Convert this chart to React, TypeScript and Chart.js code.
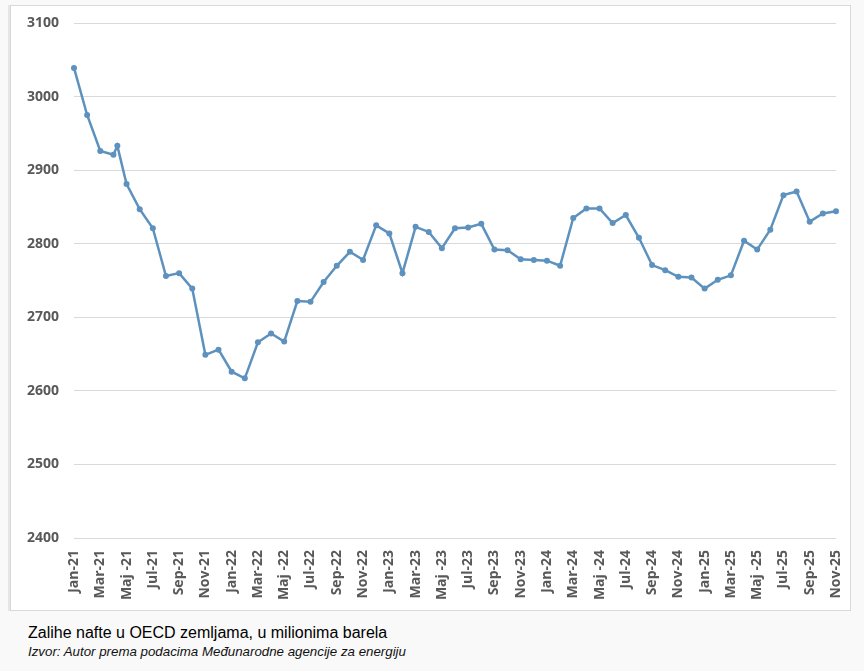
import React, { useEffect, useRef } from "react";
import { Chart, registerables } from "chart.js";

Chart.register(...registerables);

// Monthly tick labels (Jan-21 .. Nov-25)
const monthLabels = [
  "Jan-21", "Feb-21", "Mar-21", "Apr-21", "Maj -21", "Jun-21", "Jul-21", "Avg-21", "Sep-21", "Okt-21", "Nov-21", "Dec-21",
  "Jan-22", "Feb-22", "Mar-22", "Apr-22", "Maj -22", "Jun-22", "Jul-22", "Avg-22", "Sep-22", "Okt-22", "Nov-22", "Dec-22",
  "Jan-23", "Feb-23", "Mar-23", "Apr-23", "Maj -23", "Jun-23", "Jul-23", "Avg-23", "Sep-23", "Okt-23", "Nov-23", "Dec-23",
  "Jan-24", "Feb-24", "Mar-24", "Apr-24", "Maj -24", "Jun-24", "Jul-24", "Avg-24", "Sep-24", "Okt-24", "Nov-24", "Dec-24",
  "Jan-25", "Feb-25", "Mar-25", "Apr-25", "Maj -25", "Jun-25", "Jul-25", "Avg-25", "Sep-25", "Okt-25", "Nov-25",
];

// Position of each observation on the month axis (one extra reading after Apr-21)
const monthIndex = [
  0, 1, 2, 3, 3.3, 4, 5, 6, 7, 8, 9, 10, 11, 12, 13, 14, 15, 16, 17, 18, 19, 20,
  21, 22, 23, 24, 25, 26, 27, 28, 29, 30, 31, 32, 33, 34, 35, 36, 37, 38, 39, 40,
  41, 42, 43, 44, 45, 46, 47, 48, 49, 50, 51, 52, 53, 54, 55, 56, 57, 58,
];

// OECD oil stocks, million barrels
const stockValues = [
  3039, 2975, 2926, 2921, 2933, 2881, 2847, 2821, 2756, 2760, 2739, 2649, 2656, 2626, 2617, 2666, 2678, 2667,
  2722, 2721, 2748, 2770, 2789, 2778, 2825, 2814, 2760, 2823, 2816, 2794, 2821, 2822, 2827, 2792, 2791, 2779,
  2778, 2777, 2770, 2835, 2848, 2848, 2828, 2839, 2808, 2771, 2764, 2755, 2754, 2739, 2751, 2757, 2804, 2792,
  2819, 2866, 2871, 2830, 2841, 2844,
];

const yMin = 2400;
const yMax = 3100;
const yStep = 100;

const captionTitle = "Zalihe nafte u OECD zemljama, u milionima barela";
const captionSource = "Izvor: Autor prema podacima Međunarodne agencije za energiju";

export default function App() {
  const canvasRef = useRef<HTMLCanvasElement | null>(null);

  useEffect(() => {
    if (!canvasRef.current) return;
    const points = stockValues.map((v, i) => ({ x: monthIndex[i], y: v }));
    const chart = new Chart(canvasRef.current, {
      type: "line",
      data: {
        datasets: [
          {
            data: points,
            borderColor: "#5d91be",
            backgroundColor: "#5d91be",
            borderWidth: 2.5,
            pointRadius: 3,
            pointBorderWidth: 0,
            pointBackgroundColor: "#5d91be",
            tension: 0,
            clip: false,
          },
        ],
      },
      options: {
        responsive: false,
        maintainAspectRatio: false,
        animation: false,
        layout: { padding: { top: 17, right: 14, left: 0, bottom: 0 } },
        plugins: {
          legend: { display: false },
          tooltip: { enabled: false },
        },
        scales: {
          x: {
            type: "linear",
            min: 0,
            max: monthLabels.length - 1,
            afterFit: (scale: any) => {
              scale.height = 72;
              scale.paddingLeft = 0;
              scale.paddingRight = 0;
            },
            grid: { display: false, drawTicks: false },
            border: { display: false },
            ticks: {
              stepSize: 2,
              autoSkip: false,
              maxRotation: 90,
              minRotation: 90,
              padding: 12,
              color: "#595959",
              font: { family: "'Open Sans', sans-serif", size: 14, weight: "bold" },
              callback: (v: any) => monthLabels[Number(v)] ?? "",
            },
          },
          y: {
            min: yMin,
            max: yMax,
            afterFit: (scale: any) => {
              scale.width = 63;
              scale.paddingTop = 0;
              scale.paddingBottom = 0;
            },
            grid: { color: "#d9d9d9", lineWidth: 1, drawTicks: false },
            border: { display: false },
            ticks: {
              stepSize: yStep,
              padding: 15,
              color: "#595959",
              font: { family: "'Open Sans', sans-serif", size: 14, weight: "bold" },
              callback: (v: any) => String(v),
            },
          },
        },
      },
    });
    return () => chart.destroy();
  }, []);

  return (
    <div
      style={{
        position: "absolute",
        left: 0,
        top: 0,
        width: 864,
        height: 671,
        background: "#f9f9f9",
        overflow: "hidden",
      }}
    >
      <div
        style={{
          position: "absolute",
          left: 10,
          top: 5,
          width: 841,
          height: 606,
          boxSizing: "border-box",
          border: "1px solid #d9d9d9",
          boxShadow: "-2px 0 0 #e6e6e6",
          background: "#ffffff",
        }}
      >
        <canvas
          ref={canvasRef}
          width={839}
          height={604}
          style={{ position: "absolute", left: 0, top: 0, width: 839, height: 604 }}
        />
      </div>
      <div
        style={{
          position: "absolute",
          left: 28,
          top: 624,
          fontFamily: "'Liberation Sans', Arial, sans-serif",
          fontSize: 16,
          lineHeight: "18px",
          color: "#000",
          whiteSpace: "nowrap",
        }}
      >
        {captionTitle}
      </div>
      <div
        style={{
          position: "absolute",
          left: 28,
          top: 644,
          fontFamily: "'Liberation Sans', Arial, sans-serif",
          fontSize: 13.3,
          fontStyle: "italic",
          lineHeight: "16px",
          color: "#111",
          whiteSpace: "nowrap",
        }}
      >
        {captionSource}
      </div>
    </div>
  );
}
